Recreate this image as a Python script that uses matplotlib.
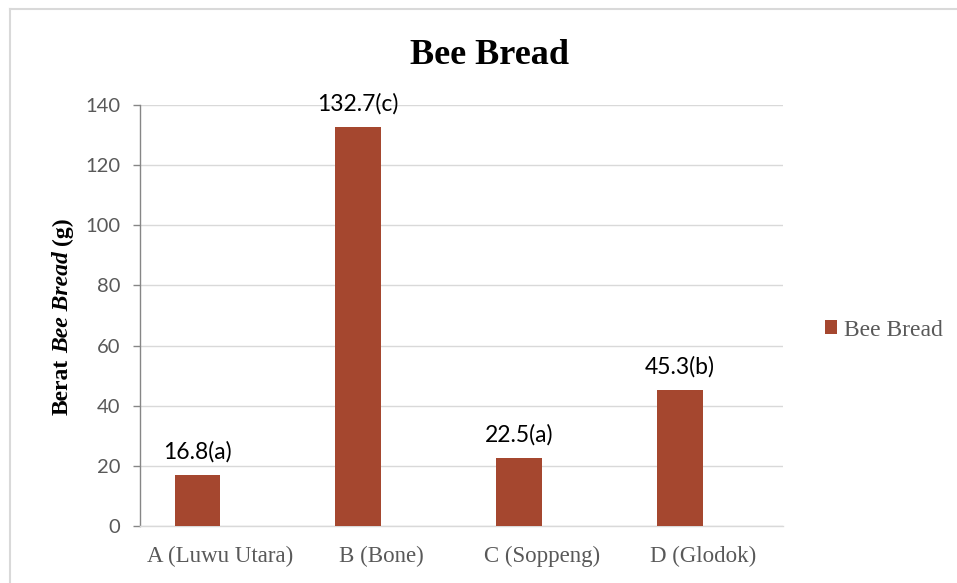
import matplotlib
matplotlib.use("Agg")
import matplotlib.pyplot as plt
import numpy as np
from matplotlib.lines import Line2D

categories = ["A (Luwu Utara)", "B (Bone)", "C (Soppeng)", "D (Glodok)"]
values = [16.8, 132.7, 22.5, 45.3]
labels = ["16.8(a)", "132.7(c)", "22.5(a)", "45.3(b)"]
series_name = "Bee Bread"
yticks = [0, 20, 40, 60, 80, 100, 120, 140]
ylabel_parts = [("Berat", 'normal'), ("Bee Bread", 'italic'), ("(g)", 'normal')]

W, H = 957, 583
fig = plt.figure(figsize=(W / 100, H / 100), dpi=100)
ax = fig.add_axes([140 / W, 1 - 526 / H, (783 - 140) / W, (526 - 105) / H])

bar_color = '#A5472F'
x = np.arange(len(categories))
width = 0.285
bars = ax.bar(x - width / 2, values, width, color=bar_color, label=series_name, zorder=3)

for xi, v, lab in zip(x - width / 2, values, labels):
    ax.annotate(lab, (xi, v), xytext=(0, 9), textcoords='offset points',
                ha='center', va='bottom', fontsize=16.5, family='Lato', color='black')

ax.set_xlim(-0.5, len(categories) - 0.5)
ax.set_ylim(0, 140)
ax.set_yticks(yticks)
ax.set_yticklabels([str(t) for t in yticks], family='Lato', fontsize=14.5, color='#595959')
ax.set_xticks(x)
ax.set_xticklabels(categories, family='Liberation Serif', fontsize=16.5, color='#595959')

ax.grid(axis='y', color='#D9D9D9', linewidth=1.0, zorder=0)
ax.set_axisbelow(True)
for s in ['top', 'right']:
    ax.spines[s].set_visible(False)
ax.spines['left'].set_color('#868686')
ax.spines['left'].set_linewidth(1.0)
ax.spines['bottom'].set_color('#D9D9D9')
ax.spines['bottom'].set_linewidth(1.0)
ax.tick_params(axis='y', length=5, width=1.0, color='#868686', pad=9)
ax.tick_params(axis='x', length=0, pad=14)

fig.text(489 / W, 1 - 64 / H, "Bee Bread", ha='center', va='baseline',
         family='Liberation Serif', fontweight='bold', fontsize=26, color='black')

# y-axis label built from pieces (bold, bold italic, bold)
renderer = fig.canvas.get_renderer()
fs = 17
space_px = 0.25 * fs * 100 / 72
texts = []
for txt, style in ylabel_parts:
    t = fig.text(0, 0, txt, rotation=90, rotation_mode='anchor', ha='left', va='baseline',
                 family='Liberation Serif', fontweight='bold', fontstyle=style,
                 fontsize=fs, color='black')
    texts.append(t)
lengths = [t.get_window_extent(renderer).height for t in texts]
total = sum(lengths) + space_px * (len(texts) - 1)
center_y = 316
baseline_x = 68
y_cur = (H - center_y) - total / 2
for t, L in zip(texts, lengths):
    t.set_position((baseline_x / W, y_cur / H))
    y_cur += L + space_px

leg = ax.legend(loc='center left', bbox_to_anchor=(825 / W, 1 - 330 / H),
                bbox_transform=fig.transFigure, frameon=False, borderpad=0,
                borderaxespad=0, handlelength=0.5, handleheight=0.5,
                handletextpad=0.3,
                prop={'family': 'Liberation Serif', 'size': 17})
for t in leg.get_texts():
    t.set_color('#595959')

fig.add_artist(Line2D([9.5 / W, 9.5 / W], [0, 1 - 8.5 / H], transform=fig.transFigure,
                      color='#D9D9D9', linewidth=1.5))
fig.add_artist(Line2D([9.5 / W, 1], [1 - 8.5 / H, 1 - 8.5 / H], transform=fig.transFigure,
                      color='#D9D9D9', linewidth=1.5))

fig.savefig("out.png", dpi=100)
